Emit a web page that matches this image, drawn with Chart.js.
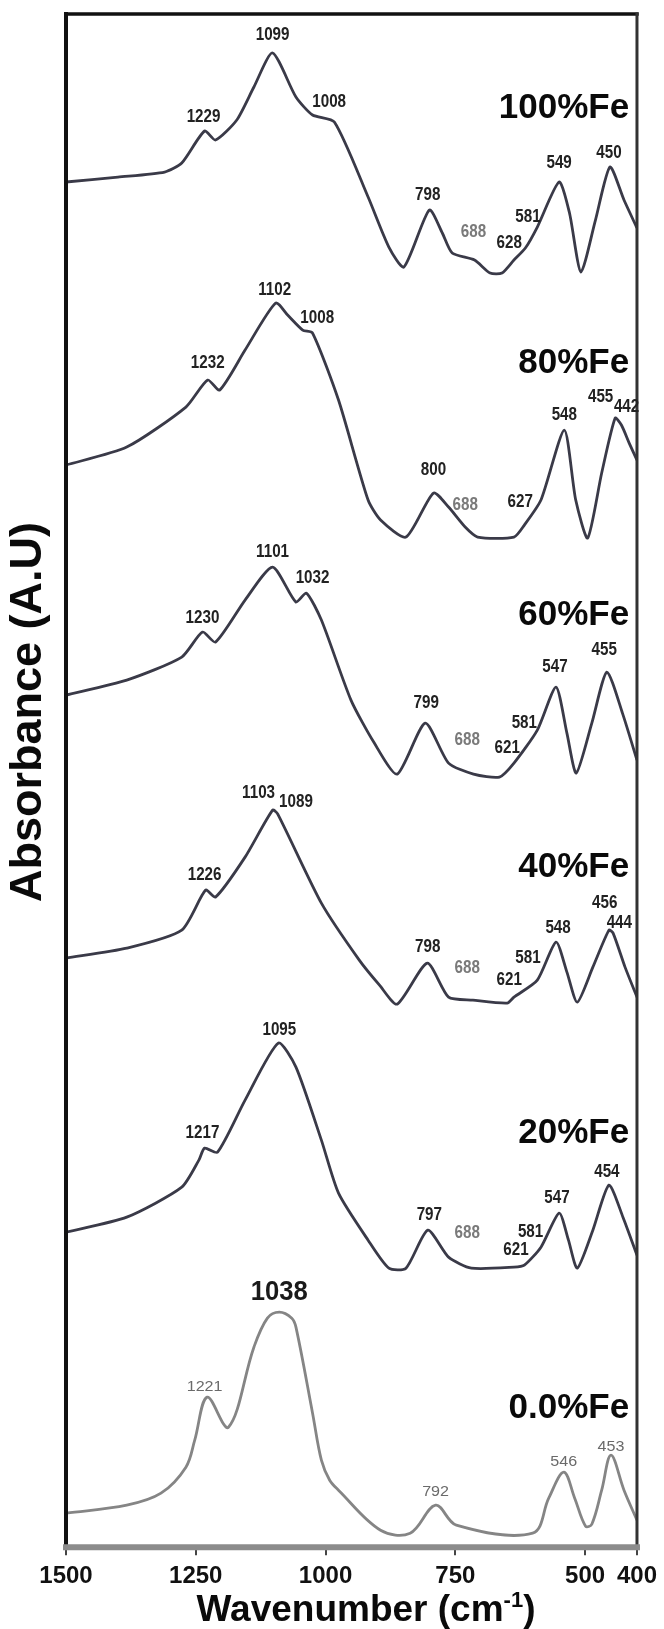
<!DOCTYPE html>
<html>
<head>
<meta charset="utf-8">
<script src="https://cdn.jsdelivr.net/npm/chart.js@4.4.1/dist/chart.umd.min.js"></script>
<style>
  html, body { margin: 0; padding: 0; background: #fff; }
</style>
</head>
<body>
<canvas id="myChart" width="664" height="1629"></canvas>
<script>
const FONT = '"Liberation Sans", Arial, sans-serif'

// x axis ticks (wavenumber, cm-1)
const xTicks = [1500, 1250, 1000, 750, 500, 400]

// spectra: wavenumber / absorbance (A.U, stacked)
const wn100 = [1500, 1400, 1310, 1277, 1233, 1212, 1171, 1138, 1102, 1057, 1025, 983, 918, 878, 849, 800, 775, 756, 713, 683, 660, 637, 615, 592, 550, 530, 508, 480, 452, 425, 400]
const abs100 = [135.2, 135.7, 136.2, 137.1, 140.3, 139.4, 141.4, 144.7, 148.1, 143.7, 141.9, 141.2, 133.7, 128.7, 126.7, 132.4, 130.1, 128.1, 127.4, 126.1, 126.1, 127.4, 128.6, 130.7, 135.2, 132.1, 126.2, 131.4, 136.7, 133.4, 130.6]

const wn80 = [1500, 1383, 1269, 1227, 1204, 1155, 1096, 1073, 1044, 1025, 975, 918, 894, 845, 792, 763, 731, 707, 637, 617, 585, 540, 518, 495, 468, 442, 430, 415, 400]
const abs80 = [106.9, 108.7, 112.7, 115.4, 114.4, 118.4, 123.1, 121.9, 120.4, 120.1, 113.4, 103.4, 101.4, 99.7, 104.1, 102.7, 100.7, 99.7, 99.7, 100.9, 103.4, 110.4, 103.4, 99.6, 106.1, 111.6, 110.9, 109.1, 107.4]

const wn60 = [1500, 1383, 1277, 1237, 1212, 1155, 1102, 1057, 1037, 1008, 951, 906, 862, 808, 763, 715, 665, 637, 592, 556, 535, 517, 487, 458, 428, 400]
const abs60 = [83.9, 85.4, 87.7, 90.2, 89.2, 93.4, 96.7, 93.2, 94.1, 91.4, 83.4, 79.1, 76.0, 81.1, 77.1, 76.0, 75.7, 77.1, 80.4, 84.7, 80.1, 76.1, 81.1, 86.2, 82.1, 77.4]

const wn40 = [1500, 1383, 1277, 1231, 1212, 1155, 1102, 1092, 1008, 935, 896, 862, 804, 763, 716, 650, 637, 592, 556, 535, 515, 485, 454, 446, 423, 400]
const abs40 = [57.6, 58.6, 60.4, 64.4, 63.7, 67.7, 72.4, 72.0, 63.1, 57.4, 54.9, 53.0, 57.1, 53.7, 53.4, 53.1, 53.7, 55.4, 59.2, 56.2, 53.2, 56.7, 60.4, 60.1, 56.7, 53.7]

const wn20 = [1500, 1383, 1277, 1244, 1233, 1208, 1155, 1091, 1057, 1008, 975, 918, 878, 845, 803, 763, 719, 637, 617, 585, 550, 532, 515, 485, 454, 427, 400]
const abs20 = [30.2, 31.7, 34.7, 37.4, 38.6, 38.2, 43.4, 49.1, 46.7, 39.4, 34.1, 29.4, 26.6, 26.6, 30.4, 27.7, 26.6, 26.7, 26.9, 28.7, 32.1, 29.4, 26.6, 30.4, 34.9, 31.7, 27.9]

const wn0 = [1500, 1383, 1317, 1269, 1252, 1228, 1187, 1138, 1112, 1089, 1065, 1057, 1025, 1008, 992, 975, 894, 837, 788, 748, 601, 570, 541, 520, 499, 487, 468, 450, 425, 400]
const abs0 = [2.1, 2.9, 4.1, 6.7, 9.4, 13.7, 10.7, 18.7, 21.6, 22.2, 21.6, 20.7, 12.1, 7.4, 5.4, 4.4, 0.4, 0.1, 2.9, 0.9, 0.1, 3.6, 6.2, 3.6, 0.8, 1.0, 4.4, 7.9, 4.4, 1.4]

// peak labels: text, wavenumber, absorbance level of the label
const peaks100 = [['1229', 1235, 141.7], ['1099', 1102, 149.9], ['1008', 993, 143.2], ['798', 803, 133.9], ['688', 715, 130.2], ['628', 646, 129.1], ['581', 610, 131.7], ['549', 550, 137.1], ['450', 454, 138.1]]
const peaks80 = [['1232', 1227, 117.1], ['1102', 1098, 124.4], ['1008', 1016, 121.6], ['800', 792, 106.4], ['688', 731, 102.9], ['627', 625, 103.2], ['548', 540, 111.9], ['455', 470, 113.7], ['442', 420, 112.7]]
const peaks60 = [['1230', 1237, 91.6], ['1101', 1102, 98.2], ['1032', 1025, 95.6], ['799', 806, 83.1], ['688', 727, 79.4], ['621', 650, 78.6], ['581', 617, 81.1], ['547', 558, 86.7], ['455', 463, 88.4]]
const peaks40 = [['1226', 1233, 65.9], ['1103', 1129, 74.1], ['1089', 1057, 73.2], ['798', 803, 58.7], ['688', 727, 56.6], ['621', 646, 55.4], ['581', 610, 57.6], ['548', 552, 60.6], ['456', 462, 63.1], ['444', 434, 61.1]]
const peaks20 = [['1217', 1237, 40.1], ['1095', 1089, 50.4], ['797', 800, 31.9], ['688', 727, 30.1], ['621', 633, 28.4], ['581', 605, 30.2], ['547', 554, 33.6], ['454', 458, 36.2]]
const peaks0 = [['1221', 1233, 14.7], ['1038', 1089, 24.2], ['792', 788, 4.2], ['546', 541, 7.2], ['453', 450, 8.7]]

const seriesNames = ['100%Fe', '80%Fe', '60%Fe', '40%Fe', '20%Fe', '0.0%Fe']
const nameLevels = [142.6, 117.1, 91.9, 66.7, 40.1, 12.6]

const spectra = [
    [wn100, abs100, peaks100],
    [wn80, abs80, peaks80],
    [wn60, abs60, peaks60],
    [wn40, abs40, peaks40],
    [wn20, abs20, peaks20],
    [wn0, abs0, peaks0]
]

const datasets = spectra.map(function (s, i) {
    return {
        label: seriesNames[i],
        data: s[0].map((w, k) => ({ x: w, y: s[1][k] })),
        borderColor: i === 5 ? '#858585' : '#3a3a48',
        borderWidth: 2.8,
        pointRadius: 0,
        fill: false,
        tension: i === 5 ? 0.35 : 0.22
    }
})

function squeezeText(ctx, text, x, y, font, color, sx) {
    ctx.save()
    ctx.translate(x, y)
    ctx.scale(sx, 1)
    ctx.font = font
    ctx.fillStyle = color
    ctx.textAlign = 'center'
    ctx.textBaseline = 'middle'
    ctx.fillText(text, 0, 0)
    ctx.restore()
}

function line(ctx, x1, y1, x2, y2, color, w) {
    ctx.beginPath()
    ctx.strokeStyle = color
    ctx.lineWidth = w
    ctx.moveTo(x1, y1)
    ctx.lineTo(x2, y2)
    ctx.stroke()
}

const decor = {
    id: 'decor',
    afterDraw(chart) {
        const ctx = chart.ctx
        const xs = chart.scales.x
        const ys = chart.scales.y
        const { left, right, top, bottom } = chart.chartArea

        // frame
        ctx.save()
        ctx.lineCap = 'square'
        line(ctx, left, top, right, top, '#111', 3.5)
        line(ctx, left, top, left, bottom, '#111', 4)
        line(ctx, right, top, right, bottom, '#333', 3)
        line(ctx, left, bottom + 1, right, bottom + 1, '#8c8c8c', 6)
        ctx.restore()

        // peak labels
        spectra.forEach(function (s, i) {
            s[2].forEach(function (p) {
                const px = xs.getPixelForValue(p[1])
                const py = ys.getPixelForValue(p[2])
                if (i === 5) {
                    if (p[0] === '1038') {
                        squeezeText(ctx, p[0], px, py, 'bold 27px ' + FONT, '#1a1a1a', 0.95)
                    } else {
                        squeezeText(ctx, p[0], px, py, '14px ' + FONT, '#6a6a6a', 1.15)
                    }
                } else if (p[0] === '688') {
                    squeezeText(ctx, p[0], px, py, 'bold 19px ' + FONT, '#7a7a7a', 0.8)
                } else {
                    squeezeText(ctx, p[0], px, py, 'bold 19px ' + FONT, '#222', 0.8)
                }
            })
        })

        // series names
        ctx.save()
        ctx.font = 'bold 35px ' + FONT
        ctx.fillStyle = '#0a0a0a'
        ctx.textAlign = 'right'
        ctx.textBaseline = 'middle'
        seriesNames.forEach(function (n, i) {
            ctx.fillText(n, xs.getPixelForValue(415), ys.getPixelForValue(nameLevels[i]))
        })
        ctx.restore()

        // axis titles
        ctx.save()
        ctx.fillStyle = '#0a0a0a'
        ctx.textBaseline = 'alphabetic'
        ctx.textAlign = 'left'
        const main = 'Wavenumber (cm'
        const sup = '-1'
        ctx.font = 'bold 37px ' + FONT
        const w1 = ctx.measureText(main).width
        const w3 = ctx.measureText(')').width
        ctx.font = 'bold 22px ' + FONT
        const w2 = ctx.measureText(sup).width
        let x0 = 366 - (w1 + w2 + w3) / 2
        const base = 1621
        ctx.font = 'bold 37px ' + FONT
        ctx.fillText(main, x0, base)
        ctx.font = 'bold 22px ' + FONT
        ctx.fillText(sup, x0 + w1, base - 14)
        ctx.font = 'bold 37px ' + FONT
        ctx.fillText(')', x0 + w1 + w2, base)

        ctx.translate(29, 712)
        ctx.rotate(-Math.PI / 2)
        ctx.textAlign = 'center'
        ctx.textBaseline = 'middle'
        ctx.font = 'bold 45px ' + FONT
        ctx.fillText('Absorbance (A.U)', 0, 0)
        ctx.restore()
    }
}

const myChart = document.getElementById('myChart').getContext('2d')

const chart = new Chart(myChart, {
    type: 'line',
    data: { datasets: datasets },
    options: {
        responsive: false,
        animation: false,
        layout: { padding: { left: 66, right: 15, top: 14, bottom: 31 } },
        plugins: { legend: { display: false }, tooltip: { enabled: false } },
        scales: {
            x: {
                type: 'linear',
                reverse: true,
                min: 400,
                max: 1500,
                afterBuildTicks: function (axis) { axis.ticks = xTicks.map(v => ({ value: v })) },
                ticks: {
                    font: { family: FONT, size: 24, weight: 'bold' },
                    color: '#111',
                    padding: 7,
                    maxRotation: 0,
                    autoSkip: false,
                    callback: v => String(v)
                },
                grid: { display: true, drawOnChartArea: false, drawTicks: true, tickLength: 9, color: '#444', lineWidth: 2 },
                border: { display: false }
            },
            y: { display: false, min: -1.2, max: 152 }
        }
    },
    plugins: [decor]
})
</script>
</body>
</html>
